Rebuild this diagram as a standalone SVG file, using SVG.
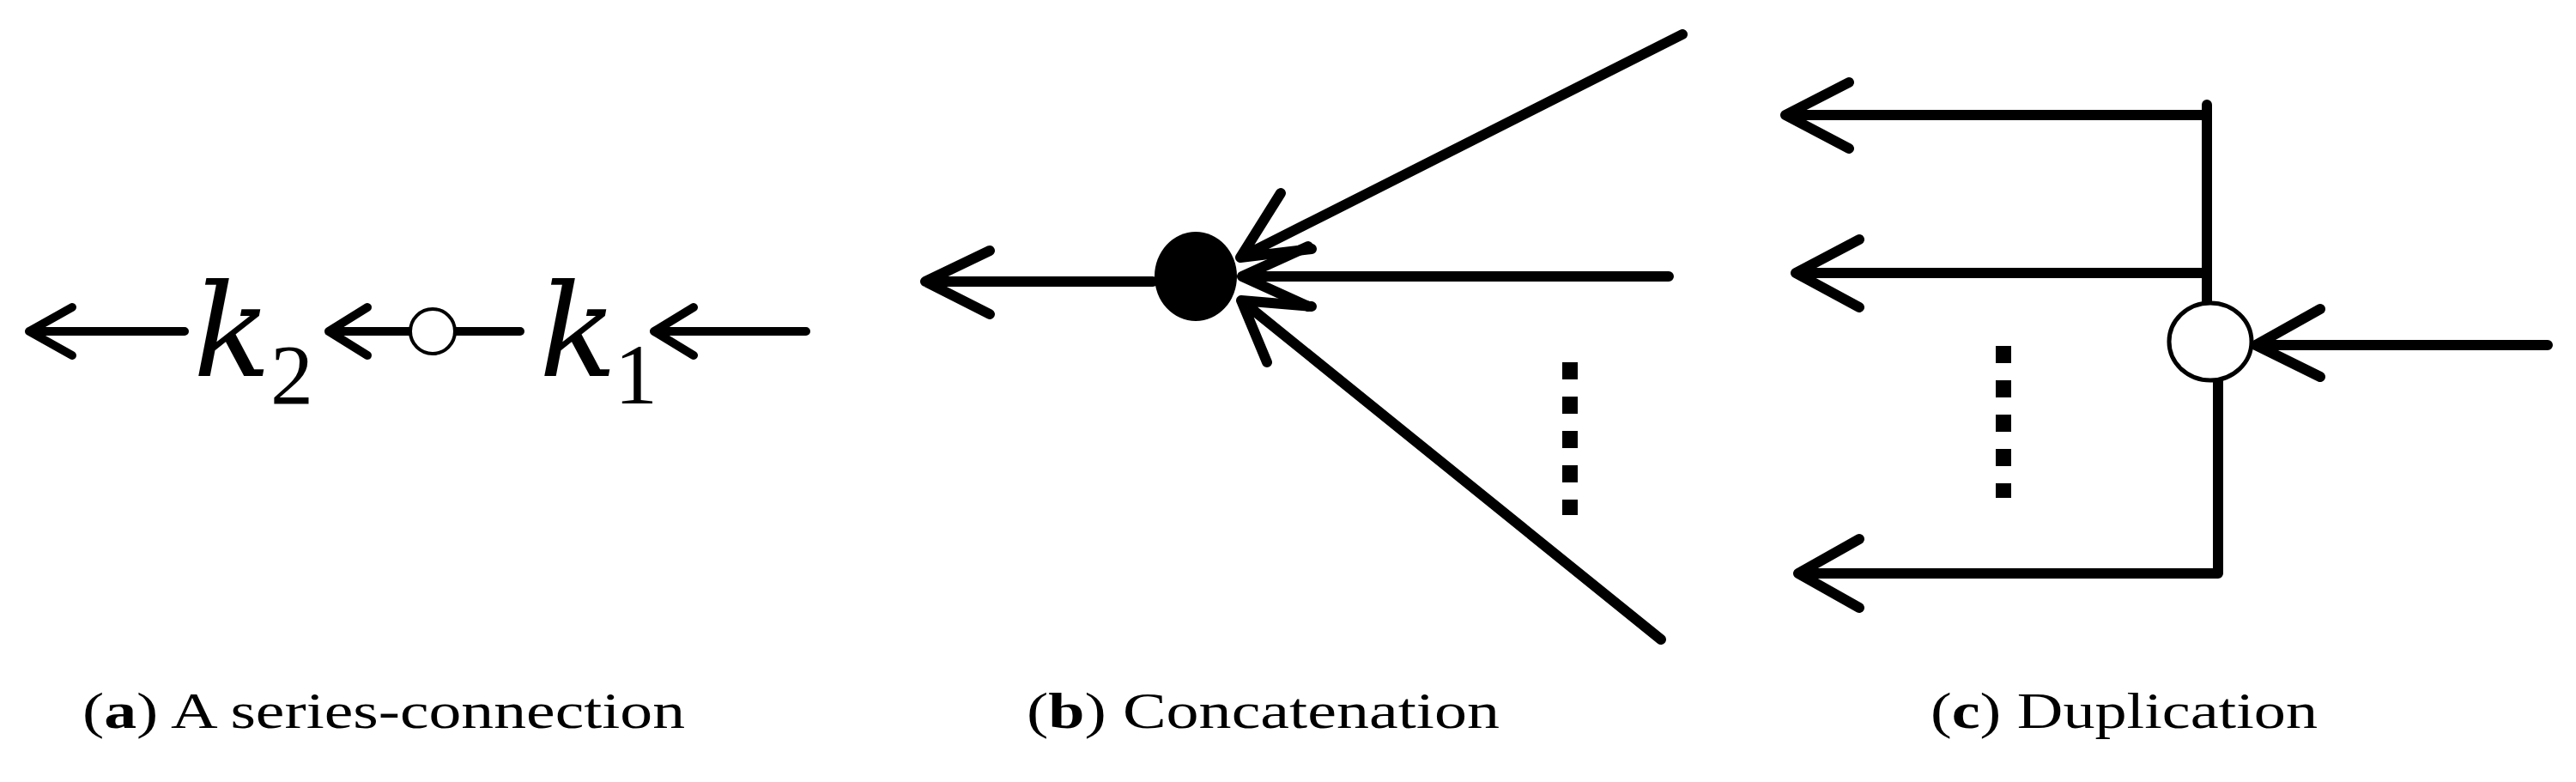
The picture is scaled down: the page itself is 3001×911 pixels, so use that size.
<svg xmlns="http://www.w3.org/2000/svg" width="3001" height="911" viewBox="0 0 3001 911">
<style>
.ln{stroke:#000;stroke-width:12;fill:none;stroke-linecap:round;stroke-linejoin:round}
.thin{stroke-width:10}
.dot{stroke:#000;stroke-width:18;stroke-dasharray:20 20;fill:none}
.math{font-family:"DejaVu Serif","Liberation Serif",serif;font-style:italic;fill:#000}
.num{font-family:"Liberation Serif",serif;fill:#000}
.cap{font-family:"Liberation Serif",serif;font-size:60px;fill:#000}
</style>
<rect width="3001" height="911" fill="#fff"/>
<g id="connectors">
<!-- (a) -->
<path class="ln thin" d="M215 386H34M84 358L34 386L84 414"/>
<path class="ln thin" d="M477 386H383M428 358L383 386L428 414"/>
<path class="ln thin" d="M531 386H606"/>
<path class="ln thin" d="M939 386H762M808 358L762 386L808 414"/>
<!-- (b) -->
<path class="ln" d="M1343 328H1078M1153 292L1078 328L1153 366"/>
<path class="ln" d="M1960 40L1445 300M1492 225L1445 300L1528 290"/>
<path class="ln" d="M1944 322H1447M1524 287L1447 322L1524 357"/>
<path class="ln" d="M1935 745L1446 350M1528 357L1446 350L1476 422"/>
<path class="dot" d="M1829 422V600"/>
<!-- (c) -->
<path class="ln" d="M2571 134H2080M2154 96L2080 134L2154 173"/>
<path class="ln" d="M2571 122V354"/>
<path class="ln" d="M2571 318H2092M2166 279L2092 318L2166 358"/>
<path class="ln" d="M2584 442V668H2095M2166 628L2095 668L2166 708"/>
<path class="ln" d="M2968 402H2628M2703 360L2628 402L2703 439"/>
<path class="dot" d="M2334 403V580"/>
</g>
<g id="node-k2"><text class="math" x="225" y="438" font-size="150">k</text><text class="num" x="315" y="470" font-size="100">2</text></g>
<g id="node-a-circle"><circle cx="504" cy="386" r="26" fill="#fff" stroke="#000" stroke-width="4"/></g>
<g id="node-k1"><text class="math" x="628" y="438" font-size="150">k</text><text class="num" x="716" y="470" font-size="100">1</text></g>
<g id="node-b-dot"><ellipse cx="1393" cy="322" rx="48" ry="52" fill="#000"/></g>
<g id="node-c-circle"><ellipse cx="2575" cy="398" rx="48" ry="45" fill="#fff" stroke="#000" stroke-width="5"/></g>
<g id="captions">
<text class="cap" x="96" y="848" textLength="702" lengthAdjust="spacingAndGlyphs">(<tspan font-weight="bold">a</tspan>) A series-connection</text>
<text class="cap" x="1196" y="848" textLength="551" lengthAdjust="spacingAndGlyphs">(<tspan font-weight="bold">b</tspan>) Concatenation</text>
<text class="cap" x="2249" y="848" textLength="451" lengthAdjust="spacingAndGlyphs">(<tspan font-weight="bold">c</tspan>) Duplication</text>
</g>
</svg>
